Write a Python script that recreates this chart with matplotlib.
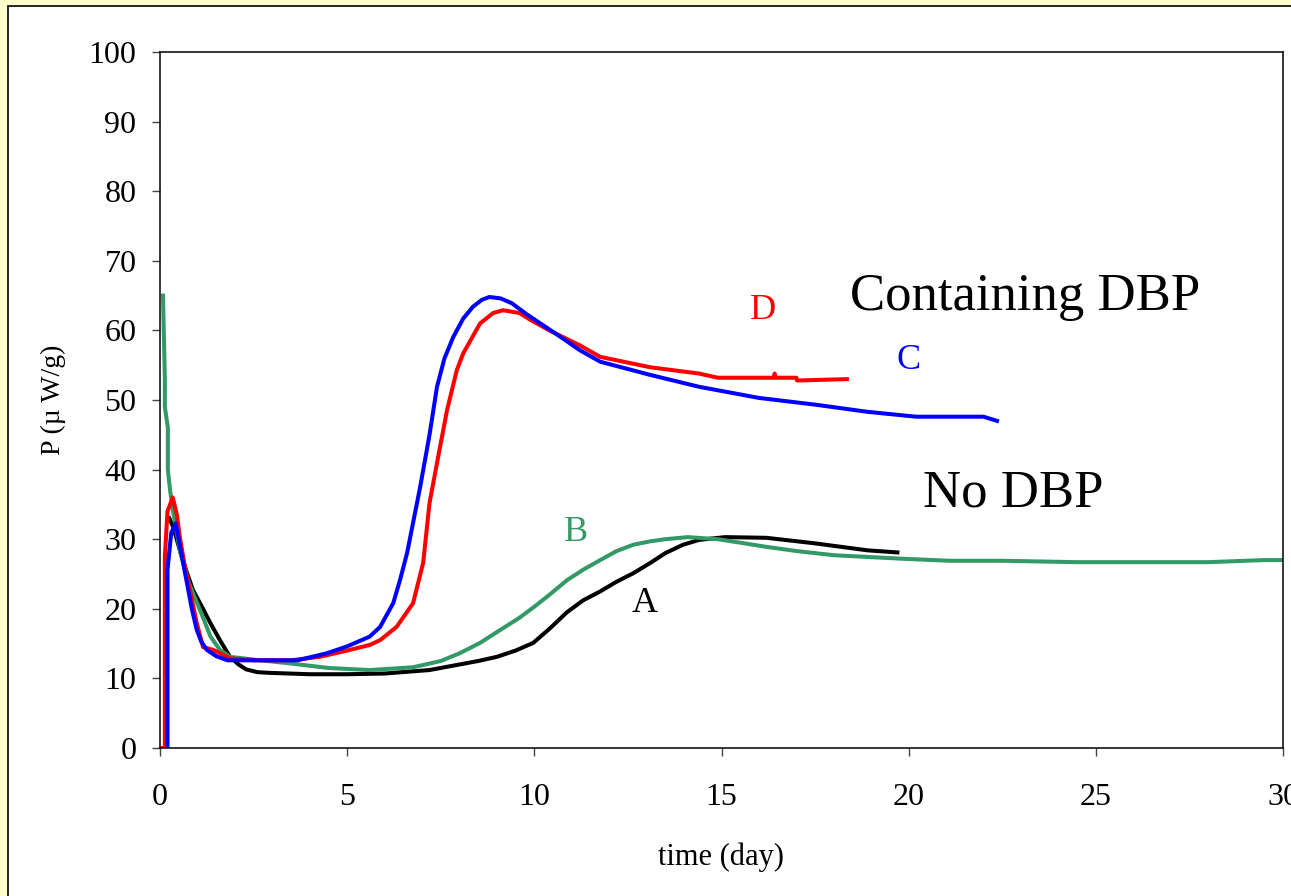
import matplotlib
matplotlib.use("Agg")
import matplotlib.pyplot as plt
from matplotlib.patches import Rectangle

plt.rcParams["font.family"] = ["Liberation Serif", "DejaVu Serif"]

# curve A (black): no DBP
a_time = [0.25, 0.35, 0.53, 0.7, 0.88, 1.1, 1.34, 1.6, 1.87, 2.1, 2.3, 2.6, 2.9,
          4.0, 5.0, 6.0, 7.2, 8.0, 8.5, 9.0, 9.5, 9.97, 10.42, 10.87, 11.3,
          11.76, 12.2, 12.64, 13.1, 13.5, 13.97, 14.4, 15.1, 16.2, 17.5, 18.9,
          19.7]
a_power = [33, 31.8, 28.4, 25.5, 22.7, 20.5, 18, 15.5, 13.1, 12, 11.3, 10.9, 10.8,
           10.6, 10.6, 10.7, 11.2, 12, 12.5, 13.1, 14, 15.1, 17.2, 19.5, 21.2,
           22.5, 23.9, 25.1, 26.6, 28, 29.2, 29.9, 30.3, 30.2, 29.4, 28.4,
           28.1]

# curve B (green): no DBP
b_time = [0.08, 0.13, 0.13, 0.21, 0.21, 0.27, 0.35, 0.53, 0.75, 1.07, 1.35, 1.6,
          1.87, 2.67, 3.4, 4.5, 5.6, 6.76, 7.5, 8.0, 8.55, 9.1, 9.6, 10.0, 10.4,
          10.87, 11.3, 11.76, 12.2, 12.64, 13.1, 13.5, 14.1, 14.9, 15.5, 16.2,
          17.0, 18.0, 19.8, 21.1, 22.5, 24.5, 26.0, 28.0, 29.5, 30.0]
b_power = [65, 53, 49, 46, 40, 37, 34, 28.4, 24, 19.8, 16, 14.1,
           13.1, 12.6, 12.2, 11.5, 11.2, 11.6, 12.5, 13.6, 15.1, 17, 18.7, 20.3,
           22, 24.1, 25.6, 27, 28.3, 29.2, 29.7, 30, 30.3, 30, 29.5, 28.9,
           28.3, 27.7, 27.2, 26.9, 26.9, 26.7, 26.7, 26.7, 27, 27]

# curve C (blue): containing DBP
c_time = [0.2, 0.2, 0.3, 0.42, 0.55, 0.72, 0.85, 0.98, 1.1, 1.25, 1.5, 1.8, 2.5,
          3.67, 4.45, 5.0, 5.6, 5.88, 6.23, 6.41, 6.6, 6.95, 7.2, 7.4, 7.6, 7.83,
          8.1, 8.36, 8.6, 8.8, 9.1, 9.4, 9.8, 10.3, 10.8, 11.2, 11.76, 13.1,
          14.4, 16.0, 17.55, 18.9, 20.2, 21.0, 22.0, 22.36]
c_power = [0, 25.6, 30.9, 32.3, 28.5, 23.7, 20, 17, 15.3, 14.1, 13.2, 12.6, 12.6,
           12.6, 13.6, 14.6, 16, 17.4, 20.8, 24.1, 28, 37.5, 45, 51.9, 56, 59,
           61.7, 63.4, 64.4, 64.8, 64.6, 63.9, 62.3, 60.5, 58.7, 57.2, 55.5, 53.6,
           51.9, 50.3, 49.3, 48.3, 47.6, 47.6, 47.6, 47]

# curve D (red): containing DBP
d_time = [0.0, 0.13, 0.13, 0.2, 0.34, 0.45, 0.53, 0.65, 0.8, 0.98, 1.15, 1.42,
          1.87, 2.5, 3.5, 4.27, 5.0, 5.6, 5.88, 6.32, 6.76, 7.03, 7.2, 7.43,
          7.67, 7.93, 8.1, 8.55, 8.9, 9.16, 9.6, 9.9, 10.4, 11.2, 11.76, 13.1,
          14.4, 14.9, 16.4, 16.42, 16.45, 17.0, 17.02, 18.35]
d_power = [0, 0, 27.5, 34, 36, 33.5, 30.3, 26.5, 22.7, 18, 14.5, 14.1,
           12.9, 12.6, 12.6, 13.1, 14, 14.8, 15.5, 17.4, 20.8, 26.6, 35.2, 41.8,
           48.6, 54.3, 56.7, 61, 62.5, 62.9, 62.5, 61.5, 60, 57.9, 56.2, 54.7,
           53.8, 53.2, 53.2, 53.8, 53.2, 53.2, 52.8, 53]

x_ticks = [0, 5, 10, 15, 20, 25, 30]
y_ticks = [0, 10, 20, 30, 40, 50, 60, 70, 80, 90, 100]

fig = plt.figure(figsize=(12.91, 8.96), dpi=100, facecolor="#FFFFCC")
fig.patches.append(Rectangle((8 / 1291, -0.05), 1.1, 1 - 6 / 896 + 0.05,
                             transform=fig.transFigure, facecolor="white",
                             edgecolor="black", linewidth=1.2, zorder=-10))

ax = fig.add_axes([160 / 1291, 1 - 748 / 896, 1123 / 1291, 696 / 896])
ax.set_facecolor("white")

ax.plot(a_time, a_power, color="black", lw=2.9)
ax.plot(b_time, b_power, color="#339966", lw=2.9)
ax.plot(d_time, d_power, color="#FF0000", lw=2.9)
ax.plot(c_time, c_power, color="#0000FF", lw=2.9)

ax.set_xlim(0, 30)
ax.set_ylim(0, 100)
ax.set_xticks(x_ticks)
ax.set_yticks(y_ticks)
ax.tick_params(axis="both", direction="out", length=6, width=1, labelsize=23,
               color="#444444")
ax.tick_params(axis="x", pad=19)
ax.tick_params(axis="y", pad=11)
for sp in ax.spines.values():
    sp.set_linewidth(1.1)
    sp.set_color("black")

ax.set_xlabel("time (day)", fontsize=22, labelpad=22)
ax.set_ylabel("P (\u00b5 W/g)", fontsize=20, labelpad=16)

ax.text(23.1, 64.8, "Containing DBP", fontsize=38, ha="center", va="center")
ax.text(22.8, 36.6, "No DBP", fontsize=38, ha="center", va="center")
ax.text(12.96, 20.7, "A", fontsize=26, color="black", ha="center", va="center")
ax.text(11.1, 31.0, "B", fontsize=26, color="#339966", ha="center", va="center")
ax.text(20.0, 55.7, "C", fontsize=26, color="#0000FF", ha="center", va="center")
ax.text(16.1, 62.8, "D", fontsize=26, color="#FF0000", ha="center", va="center")

fig.savefig("out.png", dpi=100, facecolor=fig.get_facecolor())
